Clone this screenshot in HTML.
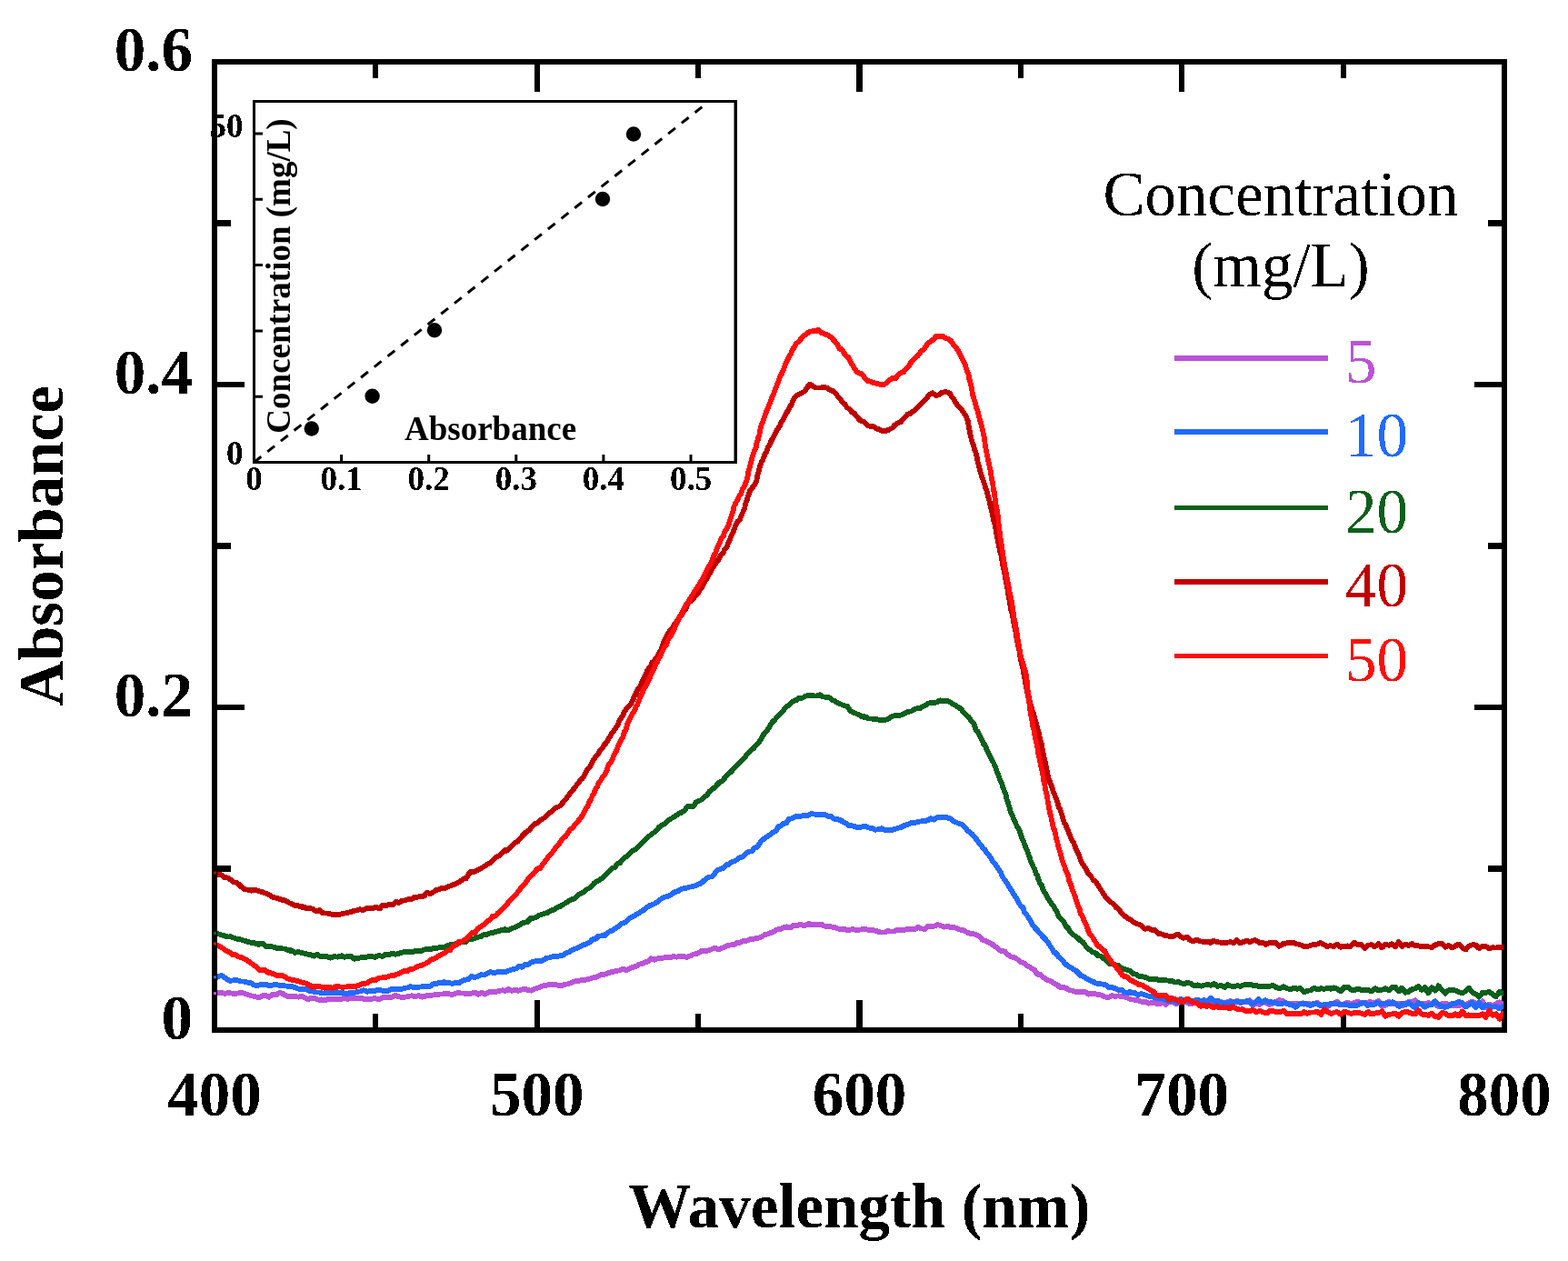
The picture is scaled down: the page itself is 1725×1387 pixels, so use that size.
<!DOCTYPE html><html><head><meta charset="utf-8"><title>Absorbance spectra</title><style>html,body{margin:0;padding:0;background:#fff;width:1725px;height:1387px;overflow:hidden}svg{display:block}text{font-family:"Liberation Serif","Times New Roman",serif}</style></head><body>
<svg width="1725" height="1387" viewBox="0 0 1725 1387">
<defs><filter id="bin" filterUnits="userSpaceOnUse" x="0" y="0" width="1725" height="1387"><feComponentTransfer><feFuncA type="discrete" tableValues="0 1"/></feComponentTransfer></filter></defs>
<rect width="1725" height="1387" fill="#fff"/>
<g filter="url(#bin)">
<path d="M413.38 1133 V1115 M413.38 68 V86 M590.75 1133 V1100 M590.75 68 V101 M768.12 1133 V1115 M768.12 68 V86 M945.50 1133 V1100 M945.50 68 V101 M1122.88 1133 V1115 M1122.88 68 V86 M1300.25 1133 V1100 M1300.25 68 V101 M1477.62 1133 V1115 M1477.62 68 V86 M236 955.50 H254 M1655 955.50 H1637 M236 778.00 H269 M1655 778.00 H1622 M236 600.50 H254 M1655 600.50 H1637 M236 423.00 H269 M1655 423.00 H1622 M236 245.50 H254 M1655 245.50 H1637" stroke="#000" stroke-width="6" fill="none"/>
<rect x="236" y="68" width="1419" height="1065" fill="none" stroke="#000" stroke-width="6"/>
<clipPath id="pc"><rect x="239" y="0" width="1415.2" height="1387"/></clipPath>
<g clip-path="url(#pc)">
<path d="M236.0 1093.3 L239.9 1091.7 L243.8 1092.2 L247.8 1092.9 L251.4 1092.0 L255.1 1092.7 L258.7 1092.9 L262.7 1092.3 L266.3 1092.1 L270.0 1093.3 L273.8 1094.5 L276.9 1095.3 L280.6 1096.0 L284.6 1097.3 L288.5 1095.5 L292.4 1095.1 L296.0 1096.8 L299.7 1093.6 L303.3 1094.5 L307.1 1091.9 L311.0 1092.9 L314.4 1095.2 L317.9 1096.1 L321.3 1095.5 L324.9 1096.2 L328.4 1096.7 L332.0 1095.8 L335.5 1097.5 L338.9 1099.4 L342.4 1097.7 L346.3 1097.9 L349.9 1099.7 L353.4 1099.3 L357.0 1100.6 L360.5 1099.2 L364.1 1099.3 L367.7 1099.3 L371.3 1098.6 L374.8 1099.3 L378.5 1097.4 L382.3 1098.8 L385.8 1098.0 L389.5 1098.3 L393.5 1097.6 L397.2 1097.4 L401.0 1099.3 L404.9 1098.4 L408.5 1098.8 L412.4 1097.9 L416.3 1099.4 L420.3 1097.6 L423.8 1096.4 L427.4 1097.4 L431.1 1096.9 L434.9 1094.8 L438.4 1096.2 L442.0 1096.9 L445.7 1096.7 L449.5 1095.8 L453.3 1095.2 L457.1 1096.3 L460.7 1095.1 L464.6 1096.7 L468.4 1095.4 L472.0 1094.8 L476.0 1094.7 L479.6 1094.0 L483.5 1093.7 L487.2 1093.3 L491.1 1093.3 L495.1 1093.5 L498.9 1093.6 L502.7 1092.3 L506.6 1092.3 L510.6 1092.6 L514.4 1092.9 L518.3 1092.9 L522.3 1091.3 L526.1 1093.9 L529.8 1091.9 L533.5 1093.7 L537.6 1091.2 L541.2 1091.0 L545.1 1090.8 L548.9 1090.1 L552.6 1089.2 L556.1 1090.0 L559.6 1088.1 L563.2 1089.9 L566.7 1088.5 L570.2 1089.8 L573.7 1088.6 L577.3 1087.8 L580.8 1088.9 L584.3 1089.8 L588.2 1087.5 L591.6 1086.7 L595.0 1085.3 L598.4 1084.1 L602.3 1083.4 L605.8 1082.7 L609.8 1082.6 L613.3 1083.6 L616.9 1084.4 L620.8 1083.1 L624.6 1082.2 L628.5 1081.1 L631.9 1079.4 L635.5 1079.3 L639.3 1077.9 L643.2 1077.9 L646.6 1077.2 L650.1 1076.3 L653.5 1074.8 L657.0 1074.5 L660.4 1072.4 L663.8 1072.0 L667.2 1071.1 L670.6 1069.8 L674.0 1068.8 L677.4 1068.1 L681.3 1067.5 L685.2 1065.6 L689.1 1067.4 L692.5 1065.2 L695.8 1064.0 L699.5 1062.9 L702.8 1060.9 L706.0 1060.0 L709.3 1058.6 L713.0 1057.4 L716.4 1054.3 L719.9 1055.7 L723.4 1054.4 L726.9 1054.1 L730.4 1053.4 L733.9 1052.8 L737.5 1053.4 L741.1 1052.0 L744.6 1052.6 L748.2 1051.9 L751.8 1051.8 L755.2 1053.0 L759.1 1051.6 L762.5 1049.7 L766.0 1049.2 L769.4 1047.5 L772.8 1045.5 L776.3 1046.4 L779.8 1045.2 L783.3 1043.9 L786.8 1042.5 L790.3 1044.3 L793.8 1042.9 L797.2 1041.8 L800.6 1039.9 L804.0 1039.3 L807.5 1039.2 L810.8 1036.8 L814.3 1036.5 L817.8 1034.9 L821.2 1035.0 L824.7 1033.3 L828.1 1032.9 L831.4 1032.0 L834.8 1031.7 L838.1 1030.1 L841.3 1028.1 L844.6 1027.2 L847.9 1026.0 L851.6 1024.5 L855.1 1022.3 L858.7 1022.0 L862.1 1020.4 L865.8 1019.4 L869.5 1020.4 L873.0 1017.8 L876.7 1018.3 L880.4 1016.5 L884.1 1018.6 L888.0 1016.5 L892.1 1016.3 L895.8 1016.9 L899.6 1016.6 L903.4 1016.7 L907.1 1018.6 L911.0 1019.1 L914.8 1019.5 L918.4 1020.1 L921.9 1021.6 L925.5 1021.5 L929.1 1022.0 L932.6 1023.5 L936.2 1022.3 L939.8 1022.3 L943.4 1023.1 L947.0 1022.4 L951.0 1021.9 L954.5 1022.7 L958.0 1023.0 L961.8 1023.3 L965.7 1024.6 L969.2 1025.3 L973.0 1025.7 L976.8 1024.0 L980.8 1024.7 L984.4 1024.3 L988.0 1022.4 L991.6 1022.8 L995.2 1023.0 L998.7 1021.3 L1002.4 1022.3 L1006.2 1022.4 L1010.0 1019.9 L1013.5 1021.3 L1017.2 1022.2 L1020.8 1019.0 L1024.5 1018.7 L1028.1 1018.6 L1031.6 1017.0 L1035.4 1018.2 L1039.1 1019.7 L1042.9 1019.0 L1046.6 1020.1 L1050.1 1020.3 L1053.5 1021.3 L1057.0 1022.9 L1060.3 1023.1 L1063.7 1025.5 L1067.3 1026.9 L1070.8 1027.2 L1074.1 1028.1 L1077.8 1030.3 L1081.0 1034.0 L1084.1 1034.9 L1087.5 1036.7 L1090.5 1037.7 L1093.4 1040.2 L1096.4 1041.9 L1099.3 1044.8 L1102.3 1046.2 L1105.4 1046.3 L1108.8 1050.2 L1112.3 1052.2 L1115.7 1053.2 L1119.2 1055.0 L1122.7 1057.9 L1126.1 1059.0 L1129.1 1061.5 L1132.1 1063.3 L1135.3 1065.2 L1138.1 1066.9 L1140.9 1071.5 L1143.7 1071.6 L1146.9 1074.6 L1149.9 1076.3 L1152.9 1078.3 L1155.9 1079.1 L1159.4 1081.5 L1162.9 1082.9 L1166.2 1086.1 L1169.6 1085.9 L1173.0 1086.9 L1176.4 1089.2 L1179.8 1089.7 L1183.3 1091.1 L1186.8 1091.2 L1190.3 1091.3 L1193.8 1091.1 L1197.3 1093.6 L1200.8 1092.9 L1204.3 1092.9 L1207.8 1094.1 L1211.3 1094.5 L1215.2 1096.2 L1219.2 1097.2 L1223.1 1094.9 L1226.8 1096.3 L1230.7 1095.3 L1234.3 1096.4 L1237.9 1096.7 L1241.4 1098.2 L1245.1 1099.5 L1248.8 1100.0 L1252.2 1100.4 L1255.9 1101.7 L1259.7 1101.7 L1263.6 1103.6 L1267.6 1103.0 L1271.4 1103.7 L1275.2 1104.5 L1279.1 1102.8 L1282.7 1104.9 L1286.4 1100.8 L1290.2 1102.5 L1293.9 1104.0 L1297.5 1102.5 L1301.0 1101.6 L1304.5 1101.9 L1308.0 1104.0 L1311.5 1104.0 L1315.0 1100.3 L1318.5 1100.9 L1322.0 1100.8 L1325.5 1103.2 L1329.0 1101.4 L1332.5 1102.2 L1336.1 1102.0 L1339.6 1101.9 L1343.1 1101.6 L1346.6 1103.4 L1350.1 1102.3 L1353.7 1101.0 L1357.3 1102.3 L1360.8 1100.9 L1364.4 1102.9 L1367.9 1102.2 L1371.5 1101.7 L1375.0 1100.3 L1378.5 1105.8 L1382.0 1102.7 L1385.5 1105.1 L1389.1 1101.5 L1392.6 1103.1 L1396.1 1105.1 L1399.6 1103.7 L1403.5 1101.8 L1407.3 1100.0 L1411.1 1101.0 L1415.1 1103.8 L1418.8 1104.4 L1422.8 1104.5 L1426.6 1103.7 L1430.3 1104.1 L1434.1 1104.7 L1438.0 1103.5 L1441.6 1104.4 L1445.2 1104.7 L1448.9 1102.6 L1452.6 1105.3 L1456.3 1106.7 L1460.0 1107.8 L1463.7 1104.9 L1467.4 1103.9 L1471.1 1101.9 L1474.8 1105.2 L1478.5 1105.1 L1482.4 1102.4 L1485.9 1104.9 L1489.6 1102.9 L1493.4 1101.6 L1497.5 1103.5 L1501.3 1103.0 L1505.2 1102.5 L1508.8 1102.5 L1512.6 1102.7 L1516.5 1101.1 L1520.5 1107.1 L1524.1 1106.0 L1527.7 1101.5 L1531.4 1104.4 L1535.0 1103.6 L1538.7 1103.3 L1542.4 1106.5 L1546.1 1104.7 L1549.8 1101.4 L1553.4 1102.8 L1557.0 1100.2 L1560.5 1104.2 L1564.1 1103.9 L1567.7 1103.9 L1571.3 1103.2 L1575.1 1103.8 L1578.8 1104.3 L1582.5 1107.4 L1586.3 1104.2 L1590.0 1103.4 L1593.7 1105.0 L1597.3 1105.8 L1600.8 1106.4 L1604.8 1106.5 L1608.7 1103.8 L1612.4 1106.3 L1615.9 1103.1 L1619.6 1101.8 L1623.3 1103.2 L1627.2 1105.8 L1631.0 1101.4 L1634.5 1108.1 L1638.4 1104.6 L1642.1 1106.0 L1645.9 1104.1 L1649.7 1102.2 L1653.2 1104.4 L1657.4 1106.1 L1658.0 1102.8" stroke="#BA52D9" stroke-width="5.8" fill="none" stroke-linejoin="round"/>
<path d="M236.0 1075.7 L239.5 1074.5 L243.4 1073.0 L246.5 1074.7 L249.3 1077.0 L253.0 1079.0 L256.6 1078.3 L260.5 1078.0 L264.5 1079.4 L268.3 1079.7 L271.9 1080.5 L275.3 1080.6 L278.6 1083.0 L282.2 1084.4 L285.7 1083.1 L289.6 1083.3 L293.5 1083.0 L297.0 1084.5 L300.8 1083.1 L304.7 1083.0 L308.2 1084.2 L311.9 1083.8 L315.6 1084.7 L319.4 1084.5 L323.3 1085.7 L326.7 1087.1 L330.1 1087.8 L333.5 1088.3 L336.9 1088.2 L340.4 1090.0 L343.8 1090.4 L347.7 1091.4 L351.6 1091.7 L355.2 1092.6 L358.9 1092.0 L362.4 1092.2 L366.0 1092.6 L369.9 1091.4 L373.8 1091.9 L377.6 1091.8 L381.4 1093.4 L385.0 1091.8 L388.8 1091.8 L392.7 1091.2 L396.5 1090.2 L400.1 1089.2 L403.8 1090.8 L407.6 1089.7 L411.4 1090.3 L415.1 1088.8 L418.9 1089.2 L422.8 1090.2 L426.5 1090.2 L430.3 1088.1 L434.0 1087.8 L437.5 1088.3 L441.0 1088.2 L444.5 1087.0 L448.1 1086.4 L451.6 1085.0 L455.1 1085.9 L458.6 1086.4 L462.2 1085.5 L465.7 1084.9 L469.2 1085.1 L472.6 1085.4 L476.0 1082.5 L479.5 1082.4 L482.9 1080.6 L486.8 1080.5 L490.3 1080.3 L493.8 1080.7 L497.3 1082.0 L500.8 1081.2 L504.7 1081.2 L508.2 1079.2 L511.6 1077.8 L515.0 1077.2 L518.4 1073.9 L521.8 1074.9 L525.2 1074.1 L528.7 1072.2 L532.1 1072.6 L536.0 1071.0 L539.5 1069.1 L543.0 1070.2 L546.6 1069.2 L550.1 1069.0 L553.6 1068.6 L557.5 1068.7 L560.9 1067.1 L564.3 1066.1 L567.7 1065.5 L571.1 1062.9 L574.4 1063.9 L577.7 1061.0 L581.0 1060.9 L584.4 1058.6 L587.7 1057.6 L591.1 1056.9 L594.5 1057.5 L597.9 1055.6 L601.3 1053.8 L604.8 1053.3 L608.3 1052.1 L611.8 1052.4 L615.3 1051.3 L618.8 1051.1 L622.4 1048.2 L625.9 1047.2 L629.0 1045.1 L632.2 1043.5 L635.5 1042.7 L639.1 1040.6 L642.2 1039.3 L645.4 1038.2 L648.6 1036.5 L651.8 1033.2 L655.0 1032.9 L658.2 1029.7 L661.4 1029.4 L664.6 1029.3 L667.8 1026.3 L670.9 1024.5 L674.1 1023.2 L677.5 1020.9 L680.8 1018.7 L683.7 1016.0 L686.6 1015.2 L689.4 1013.0 L692.3 1010.1 L695.3 1008.6 L698.3 1006.9 L701.3 1005.3 L704.4 1003.1 L707.4 1001.5 L710.4 999.1 L713.5 996.7 L716.5 995.3 L719.5 994.4 L722.6 992.5 L725.6 990.0 L728.6 987.7 L732.1 986.4 L735.3 985.7 L738.6 984.1 L741.9 981.3 L745.2 980.5 L748.5 978.3 L751.9 977.3 L755.2 976.9 L758.5 975.6 L761.8 975.1 L765.2 974.1 L768.5 972.5 L771.8 971.2 L775.2 967.9 L778.1 965.5 L781.0 964.5 L783.9 963.9 L786.8 960.1 L789.7 956.9 L792.7 955.9 L795.7 954.8 L798.8 951.3 L801.8 950.8 L804.9 948.0 L807.9 947.5 L811.3 945.1 L814.4 943.0 L817.6 942.3 L820.7 938.7 L823.8 936.7 L827.1 936.4 L830.0 932.4 L833.0 932.0 L835.6 927.8 L838.2 924.3 L840.8 922.4 L844.0 920.1 L847.1 918.0 L850.4 915.5 L853.4 914.2 L856.3 909.3 L859.1 908.2 L862.0 905.9 L865.0 905.1 L868.0 900.6 L871.2 900.2 L874.5 898.4 L877.9 897.6 L881.3 897.7 L884.9 896.9 L888.8 897.0 L892.3 895.2 L896.0 895.7 L899.6 896.3 L903.1 896.3 L907.0 895.9 L910.5 897.8 L913.9 897.4 L917.2 900.6 L920.6 900.8 L923.9 901.9 L927.2 903.6 L930.7 905.7 L934.0 908.0 L937.3 908.2 L940.9 909.3 L944.6 910.6 L948.2 909.5 L952.1 908.5 L955.6 910.5 L959.4 910.6 L962.7 912.8 L966.3 912.2 L969.8 911.2 L973.8 913.2 L977.5 912.7 L981.1 913.1 L984.6 911.7 L988.0 910.8 L991.4 909.9 L995.0 907.9 L998.8 906.8 L1002.6 904.9 L1006.1 905.4 L1009.6 903.8 L1013.1 903.3 L1016.5 903.3 L1020.2 902.5 L1023.8 900.2 L1027.3 901.5 L1031.1 898.9 L1034.6 899.1 L1038.4 898.9 L1041.9 899.2 L1045.4 900.5 L1048.8 903.3 L1052.2 904.5 L1055.4 906.2 L1058.3 906.6 L1061.5 909.8 L1064.1 913.5 L1066.6 915.4 L1069.2 917.2 L1071.9 920.4 L1074.5 923.6 L1076.8 927.0 L1079.1 929.6 L1081.3 932.9 L1083.6 934.5 L1086.0 938.9 L1088.4 941.1 L1090.4 944.1 L1092.5 948.4 L1094.6 950.3 L1096.7 953.2 L1098.8 956.4 L1101.0 959.7 L1102.8 964.1 L1104.7 967.0 L1106.5 969.6 L1108.4 972.2 L1110.3 975.9 L1112.1 978.1 L1114.0 981.4 L1115.8 984.4 L1117.7 987.1 L1119.6 991.2 L1121.4 994.2 L1123.3 996.9 L1125.2 997.7 L1127.0 1003.4 L1128.9 1005.7 L1130.8 1008.0 L1132.7 1011.3 L1134.8 1015.4 L1137.0 1018.6 L1139.3 1021.3 L1141.6 1023.6 L1144.2 1026.5 L1146.8 1030.0 L1149.0 1032.0 L1151.2 1034.2 L1153.3 1037.3 L1155.4 1040.5 L1157.5 1043.8 L1159.7 1048.0 L1162.0 1048.2 L1164.3 1052.2 L1166.8 1054.3 L1169.4 1057.1 L1172.1 1060.3 L1174.8 1062.5 L1177.8 1064.0 L1180.6 1065.9 L1183.5 1067.4 L1186.5 1070.5 L1189.4 1073.5 L1192.8 1074.4 L1196.2 1077.1 L1199.5 1078.7 L1202.8 1079.9 L1206.1 1081.7 L1209.4 1081.9 L1212.7 1082.5 L1216.1 1083.3 L1219.9 1086.3 L1223.3 1086.1 L1226.8 1087.1 L1230.2 1089.0 L1233.7 1088.5 L1237.4 1091.7 L1240.9 1091.5 L1244.6 1091.3 L1248.3 1092.0 L1251.8 1094.4 L1255.5 1092.9 L1259.3 1094.2 L1262.9 1095.5 L1266.4 1096.4 L1270.0 1096.9 L1273.5 1098.0 L1276.9 1098.0 L1280.4 1099.0 L1284.3 1101.1 L1287.8 1101.0 L1291.5 1100.3 L1295.1 1102.8 L1298.9 1098.8 L1302.6 1101.0 L1306.1 1101.5 L1309.8 1101.6 L1313.6 1100.5 L1317.3 1099.9 L1321.0 1101.0 L1324.9 1100.2 L1328.7 1101.3 L1332.4 1097.7 L1336.2 1101.9 L1339.7 1100.8 L1343.4 1103.2 L1347.0 1103.1 L1350.7 1103.1 L1354.5 1101.7 L1358.1 1102.7 L1361.8 1101.6 L1365.6 1102.3 L1369.4 1101.7 L1373.2 1100.7 L1376.8 1104.3 L1380.8 1102.7 L1384.5 1099.0 L1388.2 1103.1 L1392.1 1100.3 L1395.6 1102.3 L1399.4 1102.3 L1403.0 1102.9 L1406.8 1104.4 L1410.8 1104.0 L1414.5 1102.6 L1418.2 1104.9 L1422.0 1105.5 L1425.5 1107.7 L1429.6 1104.5 L1433.7 1103.4 L1437.7 1104.6 L1441.5 1106.2 L1445.2 1103.9 L1449.1 1104.1 L1452.8 1106.0 L1456.7 1105.1 L1460.2 1105.4 L1463.8 1104.1 L1467.5 1103.7 L1471.3 1104.5 L1475.0 1104.7 L1478.8 1104.4 L1482.6 1105.6 L1486.4 1105.8 L1490.2 1105.7 L1493.9 1105.6 L1497.5 1103.3 L1501.0 1102.9 L1504.5 1106.1 L1508.0 1104.8 L1511.5 1105.0 L1515.0 1102.8 L1518.5 1104.4 L1522.0 1103.7 L1525.5 1103.3 L1529.0 1103.7 L1532.5 1102.2 L1536.0 1105.0 L1539.5 1107.0 L1543.0 1103.6 L1546.5 1105.1 L1550.0 1103.0 L1553.5 1106.2 L1557.0 1108.4 L1560.5 1102.7 L1564.1 1104.6 L1567.7 1107.7 L1571.3 1105.7 L1575.1 1105.3 L1578.8 1101.2 L1582.5 1104.8 L1586.3 1106.9 L1590.0 1107.9 L1593.7 1106.4 L1597.3 1104.1 L1600.8 1103.9 L1604.8 1101.7 L1608.7 1103.2 L1612.4 1107.6 L1615.9 1105.2 L1619.6 1102.8 L1623.3 1108.2 L1627.2 1102.3 L1631.0 1108.4 L1634.5 1105.3 L1638.4 1106.8 L1642.1 1107.7 L1645.9 1107.1 L1649.7 1109.4 L1653.2 1107.0 L1657.4 1106.4 L1658.0 1105.6" stroke="#206AFF" stroke-width="5.8" fill="none" stroke-linejoin="round"/>
<path d="M236.0 1028.0 L239.5 1026.8 L243.3 1028.4 L246.7 1029.1 L250.3 1030.5 L253.9 1030.0 L257.5 1031.8 L260.9 1032.6 L264.7 1033.4 L268.3 1034.5 L271.8 1035.6 L275.3 1036.6 L278.9 1036.8 L282.5 1038.5 L286.0 1038.5 L289.4 1037.6 L292.9 1041.6 L296.3 1041.2 L299.8 1041.5 L303.4 1042.5 L307.0 1042.8 L310.5 1043.3 L313.9 1043.6 L317.4 1045.5 L320.8 1045.3 L324.3 1048.1 L327.9 1046.7 L331.5 1047.9 L335.0 1048.7 L338.4 1049.7 L341.9 1050.3 L345.3 1051.7 L349.1 1049.4 L352.5 1052.2 L356.4 1052.4 L360.1 1052.3 L363.9 1053.7 L367.7 1052.0 L371.6 1052.6 L375.5 1051.2 L379.1 1052.8 L382.6 1051.5 L386.1 1051.6 L389.9 1054.8 L393.9 1053.8 L397.8 1053.2 L401.7 1053.2 L405.4 1051.9 L409.2 1052.0 L413.0 1052.8 L416.6 1050.7 L420.4 1052.0 L424.3 1049.9 L427.7 1050.4 L431.3 1048.6 L435.0 1049.8 L439.0 1048.8 L442.5 1047.6 L446.0 1046.5 L449.6 1047.1 L453.1 1047.3 L456.6 1046.0 L460.1 1046.2 L463.7 1045.9 L467.2 1044.4 L470.7 1043.5 L474.2 1043.9 L477.8 1042.6 L481.3 1042.9 L484.8 1041.6 L488.3 1042.3 L491.8 1040.3 L495.3 1039.1 L498.8 1039.2 L502.3 1037.9 L505.7 1036.7 L509.1 1036.3 L512.5 1035.9 L516.0 1032.7 L519.4 1033.1 L522.7 1031.9 L526.0 1030.7 L529.3 1030.2 L532.7 1027.5 L536.5 1027.7 L539.9 1026.1 L543.3 1025.6 L546.7 1024.5 L550.1 1023.6 L553.6 1022.5 L557.0 1022.3 L560.4 1022.6 L563.8 1020.9 L567.2 1019.6 L570.5 1018.1 L574.1 1015.6 L577.2 1014.7 L580.4 1014.1 L583.5 1010.1 L586.7 1010.1 L589.9 1008.7 L593.1 1006.7 L596.3 1005.7 L599.5 1004.7 L602.7 1003.8 L606.4 1001.6 L610.0 1000.3 L613.3 998.0 L616.5 996.8 L619.7 994.7 L623.0 992.9 L626.4 990.4 L629.4 989.3 L632.4 987.9 L635.5 984.7 L638.8 982.9 L642.1 980.9 L645.0 978.5 L647.9 977.1 L650.9 974.5 L653.8 971.3 L656.6 969.2 L659.7 968.0 L662.8 965.4 L665.4 963.4 L668.1 960.5 L670.8 958.1 L673.5 954.6 L676.1 954.4 L679.2 950.2 L682.2 949.0 L685.3 944.8 L688.3 942.6 L691.0 940.9 L693.6 938.1 L696.3 935.6 L698.9 934.4 L701.5 931.9 L704.1 929.3 L706.8 926.4 L709.4 923.7 L712.0 921.6 L714.7 919.2 L717.3 917.2 L720.0 915.4 L722.7 912.4 L725.4 909.6 L728.1 907.5 L731.1 906.4 L734.2 903.2 L737.2 901.1 L740.2 899.2 L743.5 897.3 L746.9 894.9 L750.3 893.5 L753.2 891.4 L756.2 887.0 L759.6 886.8 L763.0 886.9 L765.9 882.0 L768.9 881.0 L771.9 879.5 L774.9 876.3 L777.9 874.7 L780.5 870.5 L783.2 868.2 L785.8 866.5 L788.4 863.6 L791.0 860.9 L793.9 859.3 L796.8 856.3 L799.3 853.6 L801.8 850.9 L804.3 848.8 L806.7 846.0 L809.2 843.1 L811.6 841.4 L814.1 838.7 L816.7 835.8 L819.2 833.5 L821.7 829.5 L824.1 827.5 L826.8 824.3 L829.2 822.9 L831.6 819.5 L834.1 817.7 L836.5 814.2 L838.8 809.9 L841.2 806.2 L843.5 804.1 L845.6 800.6 L847.6 797.6 L849.7 794.1 L852.0 792.2 L854.5 789.1 L857.0 786.6 L859.5 784.1 L862.4 780.6 L865.0 777.2 L867.5 776.1 L870.1 773.4 L873.1 770.9 L876.1 770.1 L879.5 767.7 L883.1 767.5 L886.8 765.4 L890.5 765.1 L894.0 765.1 L898.0 765.6 L901.7 764.1 L905.4 766.3 L909.0 766.8 L912.3 767.4 L915.7 770.0 L919.0 771.3 L922.3 773.6 L925.6 774.8 L929.1 776.3 L932.4 777.0 L935.1 781.8 L938.4 783.6 L941.7 784.9 L945.0 786.3 L948.5 788.5 L952.0 788.3 L955.4 790.4 L958.8 790.7 L962.8 790.5 L966.4 791.7 L969.9 791.6 L973.4 792.1 L977.1 790.9 L980.7 788.3 L984.1 787.2 L988.0 787.5 L991.4 786.5 L995.0 784.7 L998.8 783.0 L1002.4 782.4 L1005.7 780.3 L1009.0 779.2 L1012.3 778.8 L1016.0 776.9 L1019.6 774.7 L1023.1 773.0 L1026.4 772.4 L1030.0 772.7 L1033.9 770.3 L1037.8 771.6 L1041.6 770.4 L1045.2 772.1 L1048.3 774.5 L1051.3 775.5 L1054.2 778.2 L1057.0 779.5 L1059.8 783.4 L1062.5 786.4 L1065.0 787.9 L1067.4 791.5 L1069.6 794.3 L1071.5 796.0 L1073.4 802.6 L1075.3 804.4 L1077.1 807.9 L1078.9 811.1 L1080.5 814.1 L1082.1 818.9 L1083.7 819.3 L1085.3 823.7 L1086.9 826.8 L1088.6 830.5 L1090.2 834.3 L1091.7 836.6 L1093.2 839.4 L1094.7 842.7 L1096.3 847.4 L1097.7 851.0 L1099.0 854.2 L1100.4 858.4 L1101.8 860.6 L1103.1 865.4 L1104.3 868.5 L1105.5 871.3 L1106.6 874.6 L1107.6 879.2 L1108.6 881.5 L1109.6 885.2 L1110.7 888.2 L1111.8 893.5 L1113.1 895.6 L1114.4 898.6 L1115.8 902.1 L1117.3 905.4 L1118.8 908.8 L1120.3 910.8 L1122.0 914.8 L1123.5 919.6 L1124.8 923.3 L1126.1 925.3 L1127.4 929.6 L1128.7 932.7 L1130.0 935.1 L1131.3 939.8 L1132.6 942.5 L1134.0 947.5 L1135.4 950.0 L1136.8 953.6 L1138.2 956.1 L1139.6 960.6 L1141.1 962.6 L1142.5 967.4 L1144.1 971.7 L1145.7 973.2 L1147.4 978.0 L1149.0 981.6 L1150.9 983.9 L1152.9 988.2 L1154.9 990.9 L1156.9 993.9 L1158.8 995.9 L1160.6 999.5 L1162.6 1002.3 L1164.5 1008.2 L1166.5 1009.8 L1168.6 1012.5 L1170.6 1014.5 L1172.9 1019.8 L1175.1 1020.4 L1177.6 1025.3 L1180.0 1027.6 L1182.9 1029.6 L1185.7 1031.6 L1188.6 1034.7 L1191.2 1036.0 L1193.9 1040.0 L1196.6 1043.2 L1199.4 1044.9 L1202.1 1047.2 L1205.2 1048.2 L1208.2 1051.1 L1211.4 1052.0 L1214.5 1054.4 L1217.6 1057.2 L1220.9 1060.6 L1224.1 1060.2 L1227.2 1061.9 L1230.5 1061.8 L1233.7 1065.2 L1236.9 1065.7 L1240.2 1066.7 L1243.6 1068.1 L1246.9 1071.0 L1250.2 1071.8 L1253.6 1074.1 L1257.4 1074.3 L1260.8 1075.2 L1264.4 1076.8 L1267.9 1076.3 L1271.5 1076.7 L1274.9 1078.3 L1278.4 1078.1 L1281.8 1077.8 L1285.3 1078.7 L1288.9 1078.3 L1292.4 1080.6 L1296.0 1080.0 L1299.6 1081.4 L1303.2 1082.1 L1306.7 1080.6 L1310.3 1082.1 L1313.8 1084.0 L1317.5 1083.3 L1321.3 1084.7 L1324.9 1083.6 L1328.6 1082.9 L1332.2 1083.8 L1335.9 1081.9 L1339.7 1085.1 L1343.5 1083.7 L1347.1 1086.1 L1350.7 1082.9 L1354.2 1084.6 L1357.8 1084.8 L1361.3 1084.1 L1364.9 1084.8 L1368.4 1083.3 L1372.0 1083.0 L1375.5 1082.7 L1379.0 1084.0 L1382.5 1083.9 L1386.1 1085.6 L1389.6 1085.1 L1393.1 1085.0 L1396.6 1085.2 L1400.1 1083.7 L1404.0 1086.1 L1407.8 1087.4 L1411.6 1085.2 L1415.6 1086.9 L1419.3 1088.4 L1423.4 1086.5 L1427.1 1087.8 L1430.7 1086.9 L1434.6 1091.2 L1438.5 1089.7 L1442.1 1089.3 L1445.7 1086.5 L1449.4 1088.5 L1453.1 1087.2 L1456.8 1088.0 L1460.5 1086.6 L1464.2 1087.8 L1467.9 1086.3 L1471.5 1088.1 L1475.2 1090.5 L1479.0 1085.5 L1482.9 1085.6 L1486.4 1088.6 L1490.1 1089.2 L1494.0 1087.3 L1497.5 1089.0 L1501.3 1088.7 L1505.2 1089.0 L1508.8 1090.5 L1512.6 1087.1 L1516.5 1089.4 L1520.5 1088.6 L1524.1 1087.1 L1527.7 1089.3 L1531.4 1086.1 L1535.0 1085.8 L1538.7 1090.5 L1542.4 1086.6 L1546.1 1091.8 L1549.8 1090.7 L1553.4 1087.9 L1557.0 1087.3 L1560.5 1084.9 L1564.1 1089.0 L1567.7 1086.1 L1571.3 1092.3 L1575.1 1086.2 L1578.8 1089.6 L1582.5 1084.4 L1586.3 1089.1 L1590.0 1092.5 L1593.7 1089.1 L1597.3 1088.5 L1600.8 1089.3 L1604.8 1091.1 L1608.7 1092.3 L1612.4 1090.2 L1615.9 1086.7 L1619.6 1091.6 L1623.3 1093.1 L1627.2 1096.1 L1631.0 1091.9 L1634.5 1092.1 L1638.4 1090.8 L1642.1 1093.8 L1645.9 1096.2 L1649.7 1090.5 L1653.2 1093.1 L1657.4 1090.9 L1658.0 1091.5" stroke="#0A601E" stroke-width="5.8" fill="none" stroke-linejoin="round"/>
<path d="M236.0 960.1 L239.4 962.2 L243.0 962.1 L246.3 964.8 L249.7 965.4 L252.9 966.9 L256.2 970.0 L259.7 970.6 L262.6 972.4 L265.6 975.6 L268.9 978.1 L272.6 978.6 L276.2 979.6 L279.9 978.8 L283.6 979.8 L287.0 980.8 L290.2 981.6 L293.3 983.1 L296.8 984.7 L300.2 986.8 L303.6 987.8 L307.1 988.6 L310.4 990.0 L313.8 990.3 L317.1 992.5 L320.4 994.1 L323.8 995.8 L327.2 995.9 L330.6 997.5 L334.0 997.4 L337.4 999.3 L340.9 998.7 L344.3 999.9 L347.8 1002.4 L351.4 1001.0 L354.9 1004.0 L358.5 1004.5 L362.1 1005.0 L366.0 1005.8 L369.9 1005.8 L373.6 1006.0 L377.5 1004.8 L381.2 1004.2 L384.7 1003.5 L388.3 1002.2 L392.0 1001.5 L395.8 1000.1 L399.4 1001.1 L403.0 999.0 L406.6 999.3 L410.1 999.0 L413.9 997.5 L417.5 999.5 L421.1 995.6 L424.9 996.0 L428.4 994.8 L432.0 995.3 L435.5 991.7 L438.9 993.0 L442.3 990.8 L445.7 990.3 L449.2 989.1 L452.6 989.0 L456.0 986.8 L459.4 986.6 L462.9 985.9 L466.3 985.9 L469.7 981.7 L473.0 983.2 L476.3 981.5 L479.6 979.1 L483.0 978.3 L486.3 976.5 L489.7 977.0 L493.6 975.0 L497.0 973.8 L500.4 972.6 L503.5 971.1 L506.9 969.1 L509.8 966.5 L512.7 966.4 L515.6 961.5 L518.5 958.3 L521.5 959.0 L525.0 957.1 L528.5 955.7 L532.0 953.3 L535.1 951.5 L538.3 949.5 L541.0 947.8 L543.8 944.5 L546.6 942.2 L549.3 941.5 L552.1 938.4 L555.0 935.2 L557.9 935.5 L560.8 932.5 L563.7 929.5 L566.6 926.9 L569.4 925.6 L572.3 922.1 L574.8 919.3 L577.4 916.5 L579.9 914.4 L582.4 913.0 L585.3 909.2 L588.1 906.1 L590.8 905.4 L593.9 902.5 L597.1 900.7 L600.2 898.6 L603.0 895.5 L605.8 893.3 L608.6 891.3 L611.5 888.4 L614.2 887.5 L616.9 885.6 L619.5 882.4 L621.9 879.5 L624.2 876.7 L626.5 873.6 L628.6 870.8 L631.0 868.0 L633.2 864.9 L635.5 862.4 L638.0 858.5 L640.4 856.7 L642.4 853.7 L644.4 849.9 L646.3 845.9 L648.2 844.2 L650.0 841.8 L652.0 837.1 L654.0 834.2 L656.1 831.1 L658.3 828.9 L660.6 824.6 L662.6 823.1 L664.7 819.3 L666.7 817.2 L668.8 813.7 L670.9 810.6 L672.9 806.8 L674.9 804.4 L676.7 801.7 L678.5 799.2 L680.2 795.7 L681.9 791.9 L683.5 789.5 L685.2 786.8 L687.0 782.8 L689.3 779.4 L691.6 776.6 L693.8 774.6 L695.9 771.0 L697.5 766.7 L698.8 764.3 L700.3 760.5 L702.0 757.2 L703.7 755.5 L705.5 752.0 L707.2 747.7 L708.7 745.1 L710.3 742.2 L711.9 738.1 L713.7 735.4 L715.7 732.9 L717.7 728.2 L719.7 726.7 L721.7 724.0 L723.8 720.9 L725.7 716.6 L727.6 714.3 L728.8 710.2 L729.9 707.4 L731.1 703.9 L733.0 700.4 L735.0 696.6 L737.1 693.8 L739.3 691.6 L741.5 687.1 L743.5 685.1 L745.5 681.9 L747.6 678.2 L749.7 677.0 L751.9 672.2 L754.1 670.5 L756.3 664.6 L758.8 661.4 L761.1 660.8 L763.4 657.8 L765.9 654.4 L768.3 652.0 L770.7 647.7 L772.6 645.6 L774.2 641.9 L775.7 639.3 L777.6 636.7 L779.3 633.0 L781.2 630.1 L783.2 626.0 L785.3 622.8 L787.3 620.0 L789.3 616.6 L791.2 614.7 L793.3 609.9 L795.5 608.6 L797.4 603.6 L799.4 601.9 L801.0 597.4 L802.3 595.5 L803.7 591.0 L805.2 587.7 L806.7 584.7 L808.3 580.4 L809.9 576.9 L811.7 573.1 L813.6 572.2 L815.3 567.7 L816.8 564.5 L818.0 561.6 L819.2 559.2 L820.5 552.8 L821.5 550.8 L822.5 546.9 L823.7 544.1 L825.2 539.3 L827.2 537.0 L829.1 534.8 L830.9 531.9 L832.2 528.4 L833.3 522.9 L834.2 520.0 L835.2 516.4 L836.3 512.0 L837.7 508.3 L838.9 506.5 L840.3 502.9 L841.6 499.3 L843.1 497.0 L844.6 492.3 L846.1 490.2 L847.7 486.6 L849.3 483.4 L850.9 480.6 L852.6 477.2 L854.3 474.1 L856.1 470.9 L857.8 468.9 L859.5 464.2 L861.4 461.8 L863.3 458.1 L865.1 454.3 L867.1 451.6 L869.0 447.1 L870.8 445.2 L872.5 440.4 L874.2 437.5 L876.5 435.0 L879.5 433.3 L883.1 431.7 L886.0 429.5 L888.2 426.0 L890.6 422.8 L893.9 424.1 L896.4 426.3 L900.0 426.6 L903.1 426.4 L906.6 426.0 L910.1 426.6 L913.5 429.2 L916.7 430.1 L919.7 433.0 L922.2 436.9 L924.4 438.5 L926.9 442.6 L929.3 444.2 L931.8 448.2 L934.4 449.8 L937.0 453.1 L939.6 454.4 L942.4 457.8 L944.9 461.1 L947.6 463.2 L950.6 464.0 L953.7 467.7 L957.3 468.9 L960.8 468.9 L964.1 471.6 L967.0 472.1 L970.5 474.0 L974.3 474.0 L977.6 472.7 L981.2 471.0 L984.5 467.5 L987.8 465.1 L990.7 464.5 L993.4 460.8 L995.8 459.0 L998.3 455.7 L1001.1 455.1 L1004.1 452.9 L1007.1 450.7 L1009.8 448.0 L1012.4 445.5 L1014.9 442.6 L1017.7 440.1 L1020.1 436.9 L1022.4 434.2 L1025.7 432.1 L1029.5 434.9 L1033.4 434.3 L1035.5 431.9 L1038.7 431.3 L1042.1 431.3 L1045.1 432.7 L1047.7 437.2 L1049.7 439.5 L1051.3 443.0 L1053.4 445.6 L1055.7 448.6 L1057.9 450.5 L1060.3 454.4 L1062.4 457.1 L1064.0 461.1 L1065.0 463.3 L1065.6 469.0 L1066.2 472.4 L1066.9 474.6 L1067.7 478.8 L1068.8 483.2 L1069.9 487.0 L1071.0 489.9 L1072.0 494.3 L1073.0 496.7 L1073.8 499.4 L1074.7 503.1 L1075.5 507.6 L1076.3 510.1 L1077.3 514.5 L1078.2 518.0 L1079.2 521.1 L1080.3 524.8 L1081.3 527.3 L1082.3 530.8 L1083.4 533.7 L1084.4 537.1 L1085.4 539.8 L1086.4 543.8 L1087.5 547.3 L1088.5 550.6 L1089.4 555.2 L1090.2 559.0 L1091.0 561.8 L1091.9 566.9 L1092.7 570.1 L1093.6 574.0 L1094.3 576.3 L1095.1 579.4 L1095.8 584.5 L1096.6 588.1 L1097.3 591.9 L1098.0 595.4 L1098.8 599.8 L1099.5 602.5 L1100.3 606.9 L1101.1 609.6 L1101.8 612.1 L1102.5 617.0 L1103.2 622.1 L1104.0 623.8 L1104.7 629.3 L1105.4 631.9 L1106.1 636.0 L1106.8 639.8 L1107.5 643.5 L1108.1 646.2 L1108.8 650.6 L1109.4 654.3 L1110.1 658.1 L1110.7 660.4 L1111.4 665.5 L1112.0 669.2 L1112.7 673.0 L1113.3 673.9 L1114.0 678.4 L1114.6 680.4 L1115.4 685.9 L1116.1 689.9 L1116.8 692.2 L1117.5 695.5 L1118.1 700.3 L1118.8 704.1 L1119.5 706.6 L1120.2 710.5 L1120.9 712.7 L1121.6 717.7 L1122.3 721.8 L1123.1 725.5 L1123.8 730.1 L1124.5 731.7 L1125.2 734.8 L1126.0 740.5 L1126.8 743.6 L1127.5 747.7 L1128.2 751.5 L1129.0 755.2 L1129.8 759.6 L1130.7 763.4 L1131.5 764.8 L1132.4 769.4 L1133.4 774.6 L1134.5 776.7 L1135.5 781.1 L1136.6 783.8 L1137.6 787.0 L1138.6 791.9 L1139.6 795.0 L1140.6 797.9 L1141.6 802.6 L1142.5 804.4 L1143.3 808.3 L1144.2 812.8 L1145.0 815.6 L1145.8 818.3 L1146.6 822.8 L1147.3 826.4 L1148.1 830.8 L1148.8 834.2 L1149.5 837.0 L1150.2 840.2 L1150.9 844.1 L1151.8 847.8 L1152.8 852.8 L1153.8 856.4 L1154.9 859.8 L1156.1 862.7 L1157.3 865.7 L1158.5 870.1 L1159.7 872.6 L1160.9 876.5 L1162.2 878.6 L1163.4 883.0 L1164.8 888.1 L1166.0 889.7 L1167.2 892.7 L1168.4 897.1 L1169.7 901.9 L1170.9 905.0 L1172.3 907.3 L1173.7 910.7 L1175.1 914.3 L1176.4 916.9 L1178.0 921.3 L1179.6 924.6 L1181.2 927.3 L1182.7 931.4 L1184.2 935.0 L1185.7 937.9 L1187.2 940.9 L1188.8 945.9 L1190.6 950.3 L1192.3 951.9 L1194.2 955.2 L1196.2 959.2 L1198.2 961.5 L1200.5 964.0 L1202.8 968.5 L1205.0 969.3 L1207.1 972.5 L1209.0 975.6 L1211.0 978.4 L1213.0 981.8 L1215.2 985.3 L1217.6 988.6 L1220.0 990.6 L1222.5 992.7 L1225.0 994.1 L1227.6 997.7 L1230.2 999.4 L1232.8 1002.7 L1235.4 1006.2 L1238.0 1008.0 L1240.9 1010.2 L1243.9 1011.8 L1247.1 1014.3 L1250.2 1016.0 L1253.3 1016.7 L1256.6 1019.0 L1259.8 1022.0 L1263.5 1020.7 L1267.1 1022.8 L1270.7 1023.0 L1274.1 1026.8 L1277.6 1027.3 L1280.8 1028.6 L1284.3 1029.5 L1288.2 1029.6 L1291.8 1029.5 L1295.5 1027.6 L1299.0 1030.3 L1302.4 1031.8 L1305.9 1030.7 L1309.3 1034.2 L1312.9 1035.1 L1316.5 1033.5 L1320.5 1035.3 L1324.4 1035.8 L1328.1 1035.7 L1331.6 1036.9 L1335.3 1034.9 L1339.1 1036.2 L1342.9 1036.7 L1346.6 1037.4 L1350.1 1036.6 L1353.7 1036.2 L1357.3 1037.3 L1360.8 1033.9 L1364.4 1037.6 L1367.9 1036.0 L1371.5 1034.8 L1375.0 1036.0 L1378.5 1034.4 L1382.0 1034.4 L1385.5 1037.0 L1389.1 1036.7 L1392.6 1039.0 L1396.1 1037.1 L1399.6 1036.6 L1403.5 1037.2 L1407.3 1040.9 L1411.1 1038.4 L1415.1 1037.4 L1418.8 1036.9 L1422.8 1036.8 L1426.6 1038.3 L1430.3 1039.3 L1434.1 1040.7 L1438.0 1041.0 L1441.6 1039.9 L1445.2 1038.8 L1448.9 1038.7 L1452.6 1036.7 L1456.3 1038.8 L1460.0 1041.2 L1463.7 1040.0 L1467.4 1041.1 L1471.1 1038.4 L1474.8 1041.9 L1478.5 1040.9 L1482.4 1040.4 L1485.9 1040.9 L1489.6 1036.5 L1493.4 1039.1 L1497.5 1038.5 L1501.3 1043.0 L1505.2 1039.7 L1508.8 1039.1 L1512.6 1041.4 L1516.5 1038.1 L1520.5 1042.4 L1524.1 1038.7 L1527.7 1039.8 L1531.4 1038.3 L1535.0 1041.3 L1538.7 1036.1 L1542.4 1041.1 L1546.1 1038.5 L1549.8 1040.0 L1553.4 1037.9 L1557.0 1040.4 L1560.5 1040.3 L1564.1 1041.1 L1567.7 1040.7 L1571.3 1041.3 L1575.1 1042.0 L1578.8 1039.5 L1582.5 1038.0 L1586.3 1037.9 L1590.0 1041.7 L1593.7 1039.7 L1597.3 1042.5 L1600.8 1040.6 L1604.8 1038.6 L1608.7 1042.5 L1612.4 1044.6 L1615.9 1040.5 L1619.6 1039.1 L1623.3 1039.4 L1627.2 1043.1 L1631.0 1040.3 L1634.5 1040.8 L1638.4 1043.3 L1642.1 1042.2 L1645.9 1042.6 L1649.7 1041.5 L1653.2 1041.6 L1657.4 1043.5 L1658.0 1043.3" stroke="#C00505" stroke-width="5.8" fill="none" stroke-linejoin="round"/>
<path d="M236.0 1038.0 L239.5 1040.3 L242.9 1041.5 L246.4 1044.0 L249.7 1046.2 L252.8 1047.6 L256.0 1050.2 L259.1 1050.2 L262.4 1052.4 L265.7 1053.3 L269.0 1054.6 L272.3 1056.6 L275.7 1059.0 L278.7 1061.1 L281.6 1063.3 L285.0 1066.6 L288.3 1067.3 L291.6 1067.1 L294.9 1069.8 L298.3 1070.4 L301.7 1071.4 L305.6 1073.5 L309.0 1073.3 L312.3 1073.3 L315.7 1076.3 L319.0 1077.3 L322.3 1077.8 L325.9 1078.8 L329.4 1079.6 L333.0 1080.7 L336.5 1081.5 L339.9 1083.2 L343.4 1085.7 L346.8 1084.7 L350.3 1085.1 L354.0 1085.6 L357.8 1086.6 L361.5 1085.4 L365.5 1086.9 L369.3 1085.1 L373.3 1085.3 L377.1 1085.9 L380.9 1085.3 L385.0 1085.2 L388.8 1085.4 L392.2 1084.8 L395.8 1083.3 L399.6 1081.8 L402.9 1081.7 L406.2 1079.8 L409.5 1078.2 L413.2 1078.1 L416.6 1075.6 L420.2 1075.4 L423.9 1075.0 L427.4 1073.9 L430.9 1072.8 L434.5 1072.7 L437.9 1071.0 L441.2 1069.8 L444.5 1068.2 L447.8 1068.5 L451.2 1065.9 L454.5 1065.8 L457.8 1064.0 L461.1 1062.4 L464.5 1061.7 L467.8 1060.0 L470.9 1058.3 L474.0 1055.5 L477.1 1054.7 L480.1 1053.3 L483.2 1051.1 L486.2 1049.6 L489.3 1048.2 L492.3 1045.6 L495.4 1044.9 L498.4 1040.6 L501.4 1039.6 L504.4 1036.1 L507.7 1036.2 L510.6 1033.7 L513.5 1032.7 L516.4 1029.2 L519.3 1025.9 L522.5 1025.8 L525.2 1021.8 L528.0 1019.6 L530.8 1018.1 L533.5 1016.4 L536.3 1013.3 L539.4 1011.3 L542.4 1007.3 L545.2 1007.6 L547.9 1004.1 L550.6 1001.8 L553.1 999.6 L555.8 996.5 L558.5 993.7 L560.9 990.3 L563.3 988.1 L565.7 985.8 L568.0 983.5 L570.3 980.0 L572.6 977.4 L574.9 974.8 L577.2 972.2 L579.4 969.1 L581.7 966.0 L584.0 963.1 L586.3 961.6 L588.7 958.5 L591.5 955.4 L594.2 955.1 L597.0 950.4 L599.4 947.8 L601.8 944.6 L604.2 940.8 L606.6 939.2 L609.1 935.2 L611.2 932.5 L613.3 930.3 L615.5 927.4 L617.8 924.1 L620.0 921.2 L622.4 919.9 L624.9 916.0 L627.4 912.1 L629.9 910.6 L632.3 907.5 L634.8 904.4 L637.0 902.1 L639.1 898.9 L641.1 897.0 L643.0 892.4 L644.8 889.1 L646.6 886.4 L648.2 882.1 L649.8 880.0 L651.5 875.7 L653.3 873.0 L654.9 868.4 L656.8 865.8 L658.6 861.3 L660.4 859.1 L662.1 856.3 L663.9 853.6 L665.6 851.4 L667.4 848.0 L669.1 842.4 L670.8 839.7 L672.5 837.8 L674.3 833.7 L676.0 829.0 L677.7 826.9 L679.2 822.6 L680.7 819.5 L682.2 815.9 L683.6 813.3 L684.9 811.8 L686.2 807.2 L687.5 803.6 L688.8 802.1 L690.1 796.7 L691.5 793.7 L693.0 790.4 L694.6 787.8 L696.2 784.1 L697.8 782.2 L699.4 777.8 L701.0 775.2 L702.5 771.8 L704.0 767.7 L705.4 764.3 L706.9 761.7 L708.4 757.0 L710.2 755.1 L711.9 751.9 L713.4 748.8 L714.8 745.4 L716.4 742.1 L718.0 738.1 L719.6 735.5 L721.2 730.6 L722.8 729.1 L724.5 724.5 L726.2 722.1 L727.9 718.0 L729.6 714.8 L731.2 711.3 L732.9 709.5 L734.7 704.5 L736.4 701.1 L738.1 698.9 L739.9 695.5 L741.5 692.3 L743.3 687.9 L744.8 684.7 L746.2 682.4 L747.8 677.6 L749.4 675.6 L751.0 672.5 L752.7 669.0 L754.5 664.9 L756.3 664.1 L758.2 659.9 L760.2 657.0 L762.2 653.7 L764.3 649.9 L766.3 647.5 L768.4 644.5 L770.2 640.8 L771.9 638.4 L773.6 635.9 L775.2 632.1 L776.7 628.5 L778.5 625.8 L780.3 622.5 L782.3 619.1 L784.1 614.4 L785.5 610.5 L786.8 609.0 L788.1 605.1 L789.5 601.6 L791.0 599.0 L792.5 595.1 L794.1 591.8 L795.6 590.3 L797.1 584.7 L798.7 583.2 L800.3 579.7 L801.7 576.9 L802.9 572.6 L804.3 569.0 L805.5 564.7 L806.5 561.9 L807.5 557.0 L808.7 554.6 L810.1 551.8 L811.8 548.6 L813.5 545.1 L815.1 543.1 L816.9 537.6 L818.7 535.3 L820.2 531.7 L821.3 528.6 L822.2 525.1 L822.9 522.7 L823.6 517.0 L824.5 514.8 L825.4 511.2 L826.6 506.2 L827.8 502.1 L829.1 497.9 L830.3 494.6 L831.5 492.9 L832.6 486.5 L833.6 484.8 L834.4 480.6 L835.2 478.9 L836.0 474.4 L836.9 469.8 L837.9 467.0 L839.1 464.2 L840.3 460.8 L841.5 456.7 L842.8 453.7 L844.0 450.3 L845.3 447.7 L846.6 444.3 L847.9 441.0 L849.3 437.1 L850.6 434.8 L851.9 430.6 L853.2 427.1 L854.5 424.1 L855.8 420.9 L857.1 417.7 L858.4 413.3 L859.6 412.3 L860.9 408.5 L862.2 405.7 L863.6 401.3 L865.1 398.8 L866.7 395.0 L868.3 391.4 L870.0 389.4 L871.9 384.3 L873.7 382.1 L876.0 377.4 L878.4 376.3 L881.1 372.9 L883.9 369.6 L886.9 367.8 L890.0 365.0 L893.5 364.3 L896.9 364.3 L900.4 362.6 L904.0 366.1 L907.3 367.5 L910.6 368.4 L913.2 370.1 L915.9 372.7 L918.7 375.7 L921.1 378.8 L923.6 383.6 L925.9 384.0 L928.3 388.1 L930.7 391.2 L932.9 392.5 L934.9 396.0 L936.6 399.9 L938.4 402.1 L940.8 406.6 L943.5 409.8 L946.2 410.5 L949.2 412.5 L951.7 416.2 L954.4 418.8 L957.5 419.7 L961.2 421.2 L964.8 422.0 L968.4 422.9 L972.4 423.2 L975.9 420.5 L979.0 417.9 L982.1 415.6 L985.4 415.9 L988.2 412.3 L991.0 410.0 L993.9 409.3 L996.4 405.8 L999.0 403.9 L1001.7 399.3 L1004.2 396.4 L1006.7 393.8 L1009.1 392.0 L1011.4 388.9 L1013.7 386.0 L1016.0 384.5 L1018.4 381.3 L1021.1 377.0 L1023.8 375.8 L1026.9 373.4 L1029.9 369.9 L1033.3 370.2 L1036.9 369.8 L1040.2 372.2 L1043.1 372.7 L1046.1 374.9 L1048.7 379.0 L1051.0 381.4 L1053.1 384.1 L1055.1 387.8 L1057.0 391.5 L1058.7 394.7 L1060.3 397.8 L1062.0 401.8 L1063.3 406.9 L1064.6 409.2 L1065.5 411.7 L1066.4 417.2 L1067.1 419.0 L1067.8 421.9 L1068.5 425.7 L1069.3 429.1 L1070.2 434.9 L1071.1 437.1 L1072.1 440.7 L1073.1 444.7 L1074.2 448.7 L1075.3 451.4 L1076.3 455.3 L1077.4 459.2 L1078.3 463.0 L1079.2 465.4 L1080.1 469.9 L1081.0 473.1 L1081.8 476.8 L1082.5 479.6 L1083.1 482.8 L1083.6 487.9 L1084.0 491.3 L1084.6 494.3 L1085.4 497.7 L1086.3 502.5 L1087.3 507.1 L1088.2 509.9 L1088.9 515.0 L1089.5 516.9 L1090.1 520.6 L1090.7 524.4 L1091.3 528.5 L1091.9 530.3 L1092.5 535.0 L1093.1 539.3 L1093.7 540.8 L1094.3 545.6 L1094.8 549.5 L1095.4 553.7 L1096.0 557.4 L1096.6 560.1 L1097.1 565.1 L1097.6 566.5 L1098.1 569.9 L1098.6 575.6 L1099.0 579.0 L1099.4 581.2 L1099.8 586.3 L1100.2 589.8 L1100.7 593.4 L1101.2 596.1 L1101.8 599.3 L1102.3 602.9 L1102.9 607.4 L1103.4 611.0 L1104.0 614.3 L1104.6 617.9 L1105.2 622.6 L1105.8 624.6 L1106.5 628.7 L1107.3 634.6 L1108.0 636.2 L1108.6 639.7 L1109.3 644.4 L1110.0 645.9 L1110.7 651.8 L1111.3 653.3 L1111.9 657.1 L1112.6 660.2 L1113.2 664.0 L1113.8 667.6 L1114.4 672.2 L1115.0 675.0 L1115.6 679.5 L1116.2 682.6 L1116.7 684.6 L1117.3 689.0 L1117.9 692.1 L1118.5 695.9 L1119.1 699.9 L1119.6 703.6 L1120.2 707.2 L1120.8 708.9 L1121.5 714.1 L1122.2 717.5 L1123.0 722.8 L1124.0 724.9 L1125.0 728.4 L1126.2 732.2 L1127.2 736.4 L1128.2 738.7 L1129.0 743.4 L1129.5 747.3 L1129.9 751.4 L1130.2 754.7 L1130.5 758.1 L1130.8 762.1 L1131.2 764.7 L1131.6 770.3 L1132.2 773.1 L1132.6 775.3 L1133.2 779.9 L1133.7 784.3 L1134.3 787.1 L1134.9 790.7 L1135.5 792.7 L1136.1 798.7 L1136.8 801.2 L1137.5 803.3 L1138.2 807.8 L1139.0 812.6 L1139.7 815.3 L1140.4 817.5 L1141.1 821.6 L1141.8 825.6 L1142.5 830.4 L1143.2 832.5 L1143.8 836.3 L1144.5 839.1 L1145.2 842.8 L1145.9 845.5 L1146.6 848.7 L1147.3 852.1 L1148.0 856.1 L1148.6 860.9 L1149.3 863.4 L1150.0 867.7 L1150.7 870.9 L1151.4 873.9 L1152.1 876.9 L1152.8 882.2 L1153.4 885.0 L1154.1 888.5 L1154.8 892.9 L1155.5 895.6 L1156.3 898.2 L1157.0 901.7 L1157.9 905.7 L1158.8 910.8 L1159.8 912.4 L1160.6 915.2 L1161.5 919.6 L1162.4 923.3 L1163.3 926.3 L1164.2 930.8 L1165.2 933.9 L1166.2 936.8 L1167.2 940.3 L1168.2 945.0 L1169.3 948.5 L1170.4 951.7 L1171.5 953.5 L1172.6 958.0 L1173.7 959.6 L1174.9 962.4 L1176.1 968.4 L1177.3 971.1 L1178.5 974.3 L1179.7 978.2 L1180.9 981.8 L1182.0 984.0 L1183.1 987.4 L1184.2 991.0 L1185.3 994.5 L1186.4 997.3 L1187.6 999.5 L1188.8 1005.8 L1190.2 1006.6 L1191.6 1009.9 L1193.1 1014.2 L1194.7 1017.1 L1196.3 1020.9 L1197.9 1025.7 L1199.6 1028.0 L1201.5 1029.9 L1203.3 1033.6 L1205.5 1036.6 L1207.8 1040.5 L1210.3 1041.4 L1212.9 1044.2 L1215.3 1046.2 L1217.6 1050.9 L1219.7 1053.6 L1222.0 1056.9 L1224.3 1060.1 L1226.6 1061.3 L1228.9 1064.9 L1231.3 1067.2 L1234.2 1072.2 L1237.1 1074.3 L1240.3 1074.3 L1243.5 1078.0 L1246.9 1079.5 L1250.1 1081.2 L1253.3 1083.2 L1256.5 1083.5 L1259.6 1085.5 L1262.7 1087.1 L1265.7 1089.1 L1268.8 1090.5 L1272.0 1094.3 L1275.4 1095.0 L1278.9 1095.0 L1282.3 1094.4 L1285.8 1099.5 L1289.2 1098.0 L1292.6 1099.1 L1296.0 1100.3 L1299.6 1102.1 L1303.2 1100.3 L1306.7 1098.5 L1310.3 1101.5 L1313.7 1102.9 L1317.1 1103.4 L1320.5 1106.8 L1324.0 1105.3 L1327.6 1106.8 L1331.2 1106.0 L1334.8 1108.2 L1338.4 1106.7 L1342.0 1108.7 L1345.6 1108.0 L1349.1 1108.4 L1352.7 1109.1 L1356.2 1107.3 L1359.8 1109.3 L1363.5 1110.6 L1367.0 1110.1 L1370.9 1112.5 L1374.6 1112.4 L1378.1 1110.6 L1382.1 1113.4 L1385.8 1111.8 L1389.6 1113.2 L1393.4 1114.4 L1397.1 1111.4 L1400.6 1112.0 L1404.5 1113.3 L1408.3 1113.3 L1412.1 1111.5 L1415.6 1115.0 L1419.3 1114.5 L1423.4 1114.6 L1427.1 1114.8 L1430.7 1115.4 L1434.6 1113.1 L1438.5 1114.8 L1442.1 1113.6 L1445.7 1113.4 L1449.4 1112.8 L1453.1 1115.9 L1456.8 1110.3 L1460.5 1112.9 L1464.2 1115.1 L1467.9 1113.6 L1471.5 1113.1 L1475.2 1115.9 L1479.0 1112.7 L1482.9 1113.8 L1486.4 1115.0 L1490.1 1113.6 L1494.0 1113.6 L1497.5 1114.6 L1501.3 1116.2 L1505.2 1113.0 L1508.8 1115.5 L1512.6 1114.5 L1516.5 1114.1 L1520.5 1112.4 L1524.1 1117.8 L1527.7 1115.8 L1531.4 1115.3 L1535.0 1114.3 L1538.7 1117.7 L1542.4 1113.7 L1546.1 1113.1 L1549.8 1113.5 L1553.4 1114.9 L1557.0 1115.6 L1560.5 1111.4 L1564.1 1115.6 L1567.7 1115.6 L1571.3 1117.1 L1575.1 1114.5 L1578.8 1117.9 L1582.5 1119.0 L1586.3 1114.2 L1590.0 1114.7 L1593.7 1117.1 L1597.3 1117.6 L1600.8 1115.3 L1604.8 1117.6 L1608.7 1112.3 L1612.4 1117.3 L1615.9 1116.4 L1619.6 1117.3 L1623.3 1116.6 L1627.2 1117.1 L1631.0 1115.0 L1634.5 1118.9 L1638.4 1111.9 L1642.1 1116.9 L1645.9 1115.3 L1649.7 1120.8 L1653.2 1114.6 L1657.4 1117.4 L1658.0 1117.0" stroke="#FF0808" stroke-width="5.8" fill="none" stroke-linejoin="round"/>
</g>
<rect x="235" y="1091.1" width="3" height="3" fill="#BA52D9"/>
<rect x="235" y="1073.3" width="3" height="3" fill="#206AFF"/>
<rect x="235" y="1024.9" width="3" height="3" fill="#0A601E"/>
<rect x="235" y="958.5" width="3" height="3" fill="#C00505"/>
<rect x="235" y="1036.5" width="3" height="3" fill="#FF0808"/>
<text x="212" y="1143.0" font-size="69" font-weight="bold" text-anchor="end">0</text>
<text x="212" y="788.0" font-size="69" font-weight="bold" text-anchor="end">0.2</text>
<text x="212" y="433.0" font-size="69" font-weight="bold" text-anchor="end">0.4</text>
<text x="212" y="78.0" font-size="69" font-weight="bold" text-anchor="end">0.6</text>
<text x="236.0" y="1227" font-size="69" font-weight="bold" text-anchor="middle">400</text>
<text x="590.8" y="1227" font-size="69" font-weight="bold" text-anchor="middle">500</text>
<text x="945.5" y="1227" font-size="69" font-weight="bold" text-anchor="middle">600</text>
<text x="1300.2" y="1227" font-size="69" font-weight="bold" text-anchor="middle">700</text>
<text x="1655.0" y="1227" font-size="69" font-weight="bold" text-anchor="middle">800</text>
<text x="945.5" y="1350" font-size="69" font-weight="bold" text-anchor="middle">Wavelength (nm)</text>
<text transform="translate(69 600.5) rotate(-90)" x="0" y="0" font-size="69" font-weight="bold" text-anchor="middle">Absorbance</text>
<text x="1409" y="237" font-size="69" text-anchor="middle">Concentration</text>
<text x="1409" y="315" font-size="69" text-anchor="middle">(mg/L)</text>
<path d="M1292 394.00 H1461" stroke="#BA52D9" stroke-width="5.6"/>
<text x="1480" y="421.00" font-size="69" fill="#BA52D9">5</text>
<path d="M1292 475.00 H1461" stroke="#206AFF" stroke-width="5.6"/>
<text x="1480" y="502.00" font-size="69" fill="#206AFF">10</text>
<path d="M1292 558.50 H1461" stroke="#0A601E" stroke-width="5.6"/>
<text x="1480" y="585.50" font-size="69" fill="#0A601E">20</text>
<path d="M1292 640.00 H1461" stroke="#C00505" stroke-width="5.6"/>
<text x="1480" y="667.00" font-size="69" fill="#C00505">40</text>
<path d="M1292 721.50 H1461" stroke="#FF0808" stroke-width="5.6"/>
<text x="1480" y="748.50" font-size="69" fill="#FF0808">50</text>
<rect x="279.5" y="111.5" width="529.5" height="397.0" fill="#fff" stroke="#000" stroke-width="3"/>
<path d="M375.6 508.5 V500.0 M279.5 436.2 H289.0 M471.7 508.5 V500.0 M279.5 363.9 H289.0 M567.8 508.5 V500.0 M279.5 291.6 H289.0 M663.9 508.5 V500.0 M279.5 219.3 H289.0 M760.0 508.5 V500.0 M279.5 147.0 H289.0" stroke="#000" stroke-width="3" fill="none"/>
<path d="M279.5 508.5 L780 111.5" stroke="#000" stroke-width="3" stroke-dasharray="10 8.76" fill="none"/>
<circle cx="342.8" cy="471.5" r="8.2" fill="#000"/>
<circle cx="409.6" cy="435.7" r="8.2" fill="#000"/>
<circle cx="478.0" cy="363.3" r="8.2" fill="#000"/>
<circle cx="663.0" cy="219.0" r="8.2" fill="#000"/>
<circle cx="697.0" cy="147.5" r="8.2" fill="#000"/>
<text x="279.5" y="538.5" font-size="37" font-weight="bold" text-anchor="middle">0</text>
<text x="375.6" y="538.5" font-size="37" font-weight="bold" text-anchor="middle">0.1</text>
<text x="471.7" y="538.5" font-size="37" font-weight="bold" text-anchor="middle">0.2</text>
<text x="567.8" y="538.5" font-size="37" font-weight="bold" text-anchor="middle">0.3</text>
<text x="663.9" y="538.5" font-size="37" font-weight="bold" text-anchor="middle">0.4</text>
<text x="760.0" y="538.5" font-size="37" font-weight="bold" text-anchor="middle">0.5</text>
<text x="267.5" y="510.5" font-size="37" font-weight="bold" text-anchor="end">0</text>
<text x="267.5" y="151" font-size="37" font-weight="bold" text-anchor="end">50</text>
<text transform="translate(318.5 303.5) rotate(-90)" font-size="37" font-weight="bold" text-anchor="middle">Concentration (mg/L)</text>
<text x="539.5" y="484" font-size="37" font-weight="bold" text-anchor="middle">Absorbance</text>
</g>
</svg></body></html>
